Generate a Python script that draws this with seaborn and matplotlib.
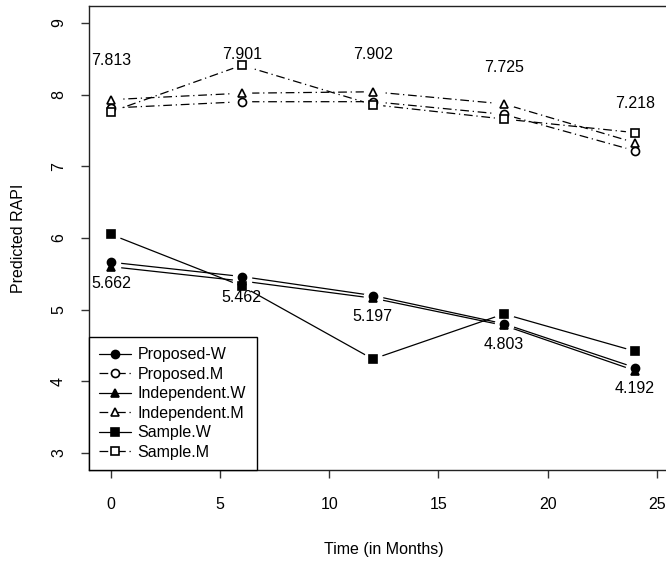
import pandas as pd
import numpy as np
import matplotlib
matplotlib.use("Agg")
import matplotlib.pyplot as plt
from matplotlib.lines import Line2D
import seaborn as sns

# values
months = [0, 6, 12, 18, 24]
proposed_w = [5.662, 5.462, 5.197, 4.803, 4.192]
proposed_m = [7.813, 7.901, 7.902, 7.725, 7.218]
independent_w = [5.60, 5.40, 5.16, 4.78, 4.15]
independent_m = [7.93, 8.02, 8.04, 7.87, 7.33]
sample_w = [6.05, 5.33, 4.31, 4.94, 4.42]
sample_m = [7.76, 8.41, 7.86, 7.66, 7.47]

series_names = ["Proposed-W", "Proposed.M", "Independent.W",
                "Independent.M", "Sample.W", "Sample.M"]
series_vals = [proposed_w, proposed_m, independent_w,
               independent_m, sample_w, sample_m]

rows = []
for name, vals in zip(series_names, series_vals):
    for m, v in zip(months, vals):
        rows.append({"series": name, "month": m, "rapi": v})
data = pd.DataFrame(rows)

sns.set_style("ticks")
plt.rcParams["font.family"] = ["Liberation Sans", "DejaVu Sans"]
plt.rcParams["font.size"] = 11.5
plt.rcParams["text.color"] = "black"
plt.rcParams["axes.labelcolor"] = "black"
plt.rcParams["xtick.color"] = "#333333"
plt.rcParams["ytick.color"] = "#333333"
plt.rcParams["xtick.labelcolor"] = "black"
plt.rcParams["ytick.labelcolor"] = "black"

dashdot = (0, (7, 3, 1, 3))
styles = {
    "Proposed-W":    dict(marker="o", fill="black", ls="-"),
    "Proposed.M":    dict(marker="o", fill="white", ls=dashdot),
    "Independent.W": dict(marker="^", fill="black", ls="-"),
    "Independent.M": dict(marker="^", fill="white", ls=dashdot),
    "Sample.W":      dict(marker="s", fill="black", ls="-"),
    "Sample.M":      dict(marker="s", fill="white", ls=dashdot),
}

fig = plt.figure(figsize=(6.66, 5.61), dpi=100)
ax = fig.add_axes([0.1336, 0.1619, 0.8853, 0.8278])

# lines
for name in series_names:
    d = data[data.series == name]
    sns.lineplot(x="month", y="rapi", data=d, color="black", lw=0.9,
                 linestyle=styles[name]["ls"], ax=ax, legend=False)

# white halos so the lines stop short of the points (like type="b")
for name in series_names:
    d = data[data.series == name]
    ax.plot(d.month, d.rapi, ls="none", marker="o", ms=13,
            mfc="white", mec="white", zorder=3)

# points
for name in series_names:
    d = data[data.series == name]
    st = styles[name]
    ax.plot(d.month, d.rapi, ls="none", marker=st["marker"], ms=5.8,
            mfc=st["fill"], mec="black", mew=1.2, zorder=4)

# value labels
for m, v in zip(months, proposed_m):
    ax.annotate(f"{v:.3f}", (m, v), xytext=(0, 34), textcoords="offset points",
                ha="center", va="center", fontsize=11.5)
for m, v in zip(months, proposed_w):
    ax.annotate(f"{v:.3f}", (m, v), xytext=(0, -15), textcoords="offset points",
                ha="center", va="center", fontsize=11.5)

ax.set_xlim(-1, 26)
ax.set_ylim(2.76, 9.24)
ax.set_xticks([0, 5, 10, 15, 20, 25])
ax.set_yticks([3, 4, 5, 6, 7, 8, 9])
for lab in ax.get_yticklabels():
    lab.set_rotation(90)
    lab.set_va("center")
ax.tick_params(axis="both", direction="out", length=6, width=1,
               labelsize=11.5, bottom=True, left=True)
ax.tick_params(axis="x", pad=13)
ax.tick_params(axis="y", pad=10.5)
for sp in ax.spines.values():
    sp.set_visible(True)
    sp.set_color("#222222")
    sp.set_linewidth(1.0)

ax.set_xlabel("Time (in Months)", fontsize=11.5, labelpad=22)
ax.set_ylabel("Predicted RAPI", fontsize=11.5, labelpad=18)

handles = []
for name in series_names:
    st = styles[name]
    handles.append(Line2D([], [], color="black", lw=0.9, linestyle=st["ls"],
                          marker=st["marker"], ms=5.8, mfc=st["fill"],
                          mec="black", mew=1.2))
leg = ax.legend(handles, series_names, loc="lower left", borderaxespad=0,
                fancybox=False, framealpha=1, edgecolor="black",
                handlelength=2.0, handletextpad=0.4, labelspacing=0.28,
                borderpad=0.65, fontsize=11.5)
leg.get_frame().set_linewidth(1.0)

plt.savefig("out.png", dpi=100)
